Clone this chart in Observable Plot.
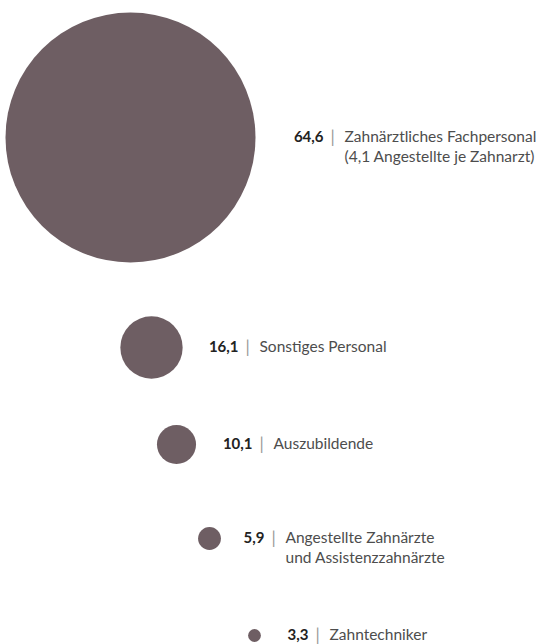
<!DOCTYPE html>
<html>
<head>
<meta charset="utf-8">
<script src="https://cdn.jsdelivr.net/npm/d3@7"></script>
<script src="https://cdn.jsdelivr.net/npm/@observablehq/plot@0.6"></script>
<style>
  html, body { margin: 0; padding: 0; background: #fff; }
  #chart svg { display: block; }
</style>
</head>
<body>
<div id="chart"></div>
<script>
// Data
const values = [64.6, 16.1, 10.1, 5.9, 3.3];
const valueLabels = ["64,6", "16,1", "10,1", "5,9", "3,3"];
const categories = [
  "Zahnärztliches Fachpersonal\n(4,1 Angestellte je Zahnarzt)",
  "Sonstiges Personal",
  "Auszubildende",
  "Angestellte Zahnärzte\nund Assistenzzahnärzte",
  "Zahntechniker"
];

// Layout (arbitrary layout units on a 544 x 644 canvas)
const posX = [130, 151, 176, 209, 254];
const posY = [137, 347, 444, 538, 635];
const pipeX = [332, 247, 261, 273, 317];

const rows = values.map((v, i) => ({
  value: v, vlabel: valueLabels[i], cat: categories[i],
  x: posX[i], y: posY[i], px: pipeX[i]
}));

const font = "Lato, 'Open Sans', sans-serif";
const fill = "#6e5e63";

const chart = Plot.plot({
  width: 544,
  height: 644,
  margin: 0,
  style: { background: "#fff", fontFamily: font },
  x: { domain: [0, 544], range: [0, 544], axis: null },
  y: { domain: [0, 644], range: [0, 644], axis: null },
  r: { type: "linear", domain: [0, 64.6], range: [0, 125] },
  marks: [
    Plot.dot(rows, { x: "x", y: "y", r: "value", fill: fill, stroke: "none" }),
    Plot.text(rows, { x: "px", y: "y", text: d => d.vlabel, textAnchor: "end", dx: -9,
      fontWeight: "bold", fontSize: 15, fill: "#222", fontFamily: font }),
    Plot.text(rows, { x: "px", y: "y", text: d => "|", textAnchor: "middle",
      fontSize: 17, fill: "#999", fontFamily: font }),
    Plot.text(rows, { x: "px", y: "y", text: "cat", textAnchor: "start", dx: 12,
      lineAnchor: "top", dy: -9, lineHeight: 1.25,
      fontSize: 15.5, fill: "#4d4d4d", fontFamily: font })
  ]
});

document.getElementById("chart").appendChild(chart);
</script>
</body>
</html>
